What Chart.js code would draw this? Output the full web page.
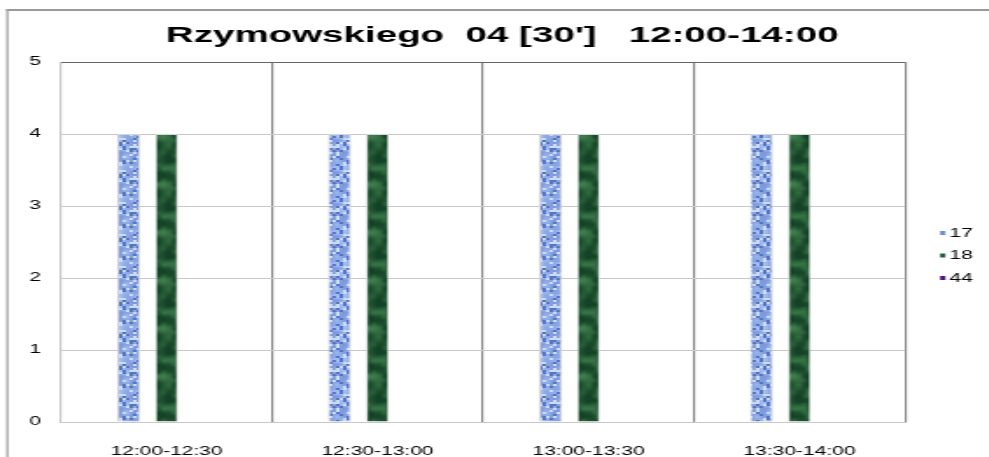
<!DOCTYPE html>
<html>
<head>
<meta charset="utf-8">
<script src="https://cdn.jsdelivr.net/npm/chart.js@4/dist/chart.umd.min.js"></script>
<style>
  html, body { margin: 0; padding: 0; background: #fff; overflow: hidden; }
  #chart { transform: scaleX(1.75); transform-origin: 0 0; }
</style>
</head>
<body>
<canvas id="chart" width="565" height="457"></canvas>
<script>
// data
const chartTitle = "Rzymowskiego  04 [30']   12:00-14:00";
const categories = ['12:00-12:30', '12:30-13:00', '13:00-13:30', '13:30-14:00'];
const seriesLabels = ['17', '18', '44'];
const values17 = [4, 4, 4, 4];
const values18 = [4, 4, 4, 4];
const values44 = [0, 0, 0, 0];
const yTicks = [0, 1, 2, 3, 4, 5];

const legendColors = ['#6a8fd8', '#1f5f35', '#4b1480'];
const fontFamily = '"Liberation Sans", Arial, sans-serif';

// small deterministic texture helpers (only for the bar fill look)
function hash(i) {
    const x = Math.sin(i * 127.1 + 311.7) * 43758.5453;
    return x - Math.floor(x);
}

// tileable value noise on a gx by gy lattice
function valueNoise(x, y, w, h, gx, gy, seed) {
    const fx = x / w * gx, fy = y / h * gy;
    const x0 = Math.floor(fx), y0 = Math.floor(fy);
    const tx = fx - x0, ty = fy - y0;
    const at = (i, j) => hash(((i % gx) + gx) % gx * 57 + (((j % gy) + gy) % gy) * 131 + seed);
    const sx = tx * tx * (3 - 2 * tx), sy = ty * ty * (3 - 2 * ty);
    const a = at(x0, y0) + (at(x0 + 1, y0) - at(x0, y0)) * sx;
    const b = at(x0, y0 + 1) + (at(x0 + 1, y0 + 1) - at(x0, y0 + 1)) * sx;
    return a + (b - a) * sy;
}

function makePattern(ctx, w, h, painter) {
    const c = document.createElement('canvas');
    c.width = w; c.height = h;
    const g = c.getContext('2d');
    const img = g.createImageData(w, h);
    for (let y = 0; y < h; y++) {
        for (let x = 0; x < w; x++) {
            const p = painter(x, y, w, h);
            const k = (y * w + x) * 4;
            img.data[k] = p[0]; img.data[k + 1] = p[1]; img.data[k + 2] = p[2]; img.data[k + 3] = 255;
        }
    }
    g.putImageData(img, 0, 0);
    return ctx.createPattern(c, 'repeat');
}

const ctx = document.getElementById('chart').getContext('2d');

// blue: light blue with darker flecks
const bluePattern = makePattern(ctx, 16, 32, (x, y, w, h) => {
    const n = hash(Math.floor(x / 2) * 31 + Math.floor(y / 2) * 7 + 3);
    const v = valueNoise(x, y, w, h, 4, 8, 11);
    if (n < 0.22) return [84, 116, 196];
    if (n > 0.84) return [206, 218, 248];
    const t = v;
    return [122 + t * 50, 150 + t * 50, 220 + t * 25];
});

// green: dark green mottling
const greenPattern = makePattern(ctx, 24, 48, (x, y, w, h) => {
    const v = valueNoise(x, y, w, h, 4, 6, 5) * 0.65 + valueNoise(x, y, w, h, 8, 12, 23) * 0.35;
    const t = Math.max(0, Math.min(1, (v - 0.25) * 1.6));
    return [20 + t * 42, 66 + t * 58, 38 + t * 38];
});

// outer frame, title and side legend
const framePlugin = {
    id: 'frame',
    beforeDraw(chart) {
        const c = chart.ctx;
        c.save();
        c.fillStyle = '#fff';
        c.fillRect(0, 0, chart.width, chart.height);
        c.fillStyle = '#9a9a9a';
        c.fillRect(3.6, 9, 1.15, chart.height);
        c.fillRect(3.6, 9, chart.width, 2);
        c.restore();
    },
    afterDraw(chart) {
        const c = chart.ctx;
        c.save();
        c.font = 'bold 22px ' + fontFamily;
        c.textAlign = 'center';
        c.textBaseline = 'alphabetic';
        c.fillStyle = '#000';
        c.fillText(chartTitle, 287, 42);

        c.textAlign = 'left';
        c.font = '12px ' + fontFamily;
        c.textBaseline = 'middle';
        const rows = [233, 255.5, 278];
        chart.data.datasets.forEach((ds, i) => {
            c.fillStyle = legendColors[i];
            c.fillRect(537.2, rows[i] - 2, 3, 4);
            c.fillStyle = '#000';
            c.fillText(ds.label, 542.6, rows[i] + 0.5);
        });
        c.restore();
    }
};

new Chart(ctx, {
    type: 'bar',
    data: {
        labels: categories,
        datasets: [
            { label: seriesLabels[0], data: values17, backgroundColor: bluePattern, borderColor: '#d6d6d6', borderWidth: 1 },
            { label: seriesLabels[1], data: values18, backgroundColor: greenPattern, borderColor: '#d6d6d6', borderWidth: 1 },
            { label: seriesLabels[2], data: values44, backgroundColor: legendColors[2], borderWidth: 0 }
        ]
    },
    options: {
        responsive: false,
        animation: false,
        devicePixelRatio: 1,
        layout: { padding: { left: 0, right: 47.9, top: 62, bottom: 0 } },
        datasets: { bar: { categoryPercentage: 0.54, barPercentage: 0.605 } },
        plugins: {
            legend: { display: false },
            tooltip: { enabled: false },
            title: { display: false }
        },
        scales: {
            x: {
                afterFit(scale) { scale.height = 35; },
                grid: {
                    offset: true,
                    drawTicks: false,
                    color: c => c.index === 0 ? '#c8c8c8' : (c.index === categories.length ? '#000' : '#858585'),
                    lineWidth: c => c.index === categories.length ? 1.4 : 1.15
                },
                border: { display: true, color: '#c8c8c8', width: 1 },
                ticks: {
                    color: '#000',
                    padding: 22,
                    font: { family: fontFamily, size: 12 }
                }
            },
            y: {
                min: 0,
                max: 5,
                afterFit(scale) { scale.width = 34.9; },
                afterBuildTicks(scale) { scale.ticks = yTicks.map(v => ({ value: v })); },
                grid: {
                    drawTicks: false,
                    color: c => (c.tick && c.tick.value === 5) ? '#666' : '#c8c8c8',
                    lineWidth: 1
                },
                border: { display: true, color: '#c8c8c8', width: 1 },
                ticks: {
                    color: '#000',
                    padding: 11.5,
                    font: { family: fontFamily, size: 12 }
                }
            }
        }
    },
    plugins: [framePlugin]
});
</script>
</body>
</html>
